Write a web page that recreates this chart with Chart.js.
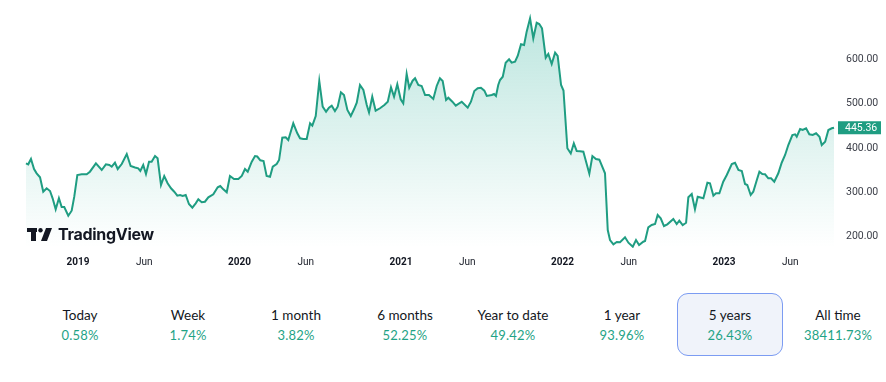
<!DOCTYPE html>
<html>
<head>
<meta charset="utf-8">
<script src="https://cdn.jsdelivr.net/npm/chart.js@4/dist/chart.umd.min.js"></script>
<style>
  html, body { margin: 0; padding: 0; background: #fff; width: 886px; height: 382px; overflow: hidden; }
  #wrap { position: absolute; left: 0; top: 0; width: 886px; height: 275px; }
  #logo { position: absolute; left: 27px; top: 224px; height: 20px; display: flex; align-items: center; }
  #logo span { font-family: Inter, "Noto Sans", sans-serif; font-weight: 700; font-size: 16px; color: #131722; margin-left: 6px; letter-spacing: -0.3px; }
  .perf { position: absolute; top: 305px; width: 108px; text-align: center; font-family: Lato, "Noto Sans", sans-serif; }
  .perf .l { font-size: 13.5px; color: #131722; height: 20px; line-height: 20px; }
  .perf .v { font-size: 13px; color: #1fa386; height: 20px; line-height: 20px; letter-spacing: 0.2px; }
  #sel { position: absolute; left: 677px; top: 293px; width: 104px; height: 61px; border: 1.5px solid #7c9cf2; border-radius: 11px; background: #f0f3fa; }
</style>
</head>
<body>
<div id="sel"></div>
<div id="wrap"><canvas id="c" width="886" height="275"></canvas></div>
<div id="logo">
  <svg width="25" height="13" viewBox="0 0 25 13">
    <rect x="0" y="0" width="10" height="4" fill="#131722"/>
    <rect x="4" y="0" width="5" height="13" fill="#131722"/>
    <circle cx="13.5" cy="2.2" r="2.2" fill="#131722"/>
    <polygon points="19,0 25,0 20,13 14,13" fill="#131722"/>
  </svg>
  <span>TradingView</span>
</div>
<div id="perfRow"></div>
<script>
// ---- data ----
const dates = [2018.678,2018.692,2018.709,2018.728,2018.744,2018.765,2018.785,2018.806,2018.827,2018.843,2018.862,2018.882,2018.899,2018.915,2018.940,2018.961,2018.977,2018.996,2019.023,2019.054,2019.074,2019.111,2019.147,2019.173,2019.194,2019.209,2019.229,2019.246,2019.271,2019.302,2019.326,2019.353,2019.373,2019.386,2019.404,2019.421,2019.440,2019.456,2019.477,2019.493,2019.514,2019.534,2019.555,2019.576,2019.596,2019.615,2019.632,2019.648,2019.667,2019.687,2019.708,2019.729,2019.745,2019.766,2019.786,2019.807,2019.838,2019.865,2019.881,2019.900,2019.921,2019.941,2019.966,2019.993,2020.014,2020.034,2020.051,2020.076,2020.096,2020.110,2020.129,2020.149,2020.168,2020.189,2020.206,2020.230,2020.245,2020.265,2020.286,2020.302,2020.333,2020.358,2020.375,2020.395,2020.416,2020.437,2020.451,2020.472,2020.494,2020.515,2020.536,2020.554,2020.571,2020.591,2020.608,2020.628,2020.647,2020.668,2020.689,2020.709,2020.726,2020.746,2020.767,2020.788,2020.802,2020.822,2020.843,2020.870,2020.897,2020.918,2020.938,2020.957,2020.977,2020.998,2021.014,2021.035,2021.051,2021.072,2021.087,2021.107,2021.128,2021.149,2021.173,2021.200,2021.221,2021.241,2021.258,2021.279,2021.293,2021.318,2021.339,2021.376,2021.413,2021.433,2021.454,2021.475,2021.495,2021.516,2021.531,2021.562,2021.576,2021.588,2021.602,2021.613,2021.630,2021.648,2021.669,2021.685,2021.706,2021.723,2021.743,2021.762,2021.778,2021.799,2021.819,2021.840,2021.856,2021.873,2021.896,2021.912,2021.933,2021.954,2021.970,2021.991,2022.006,2022.030,2022.051,2022.070,2022.088,2022.108,2022.129,2022.166,2022.185,2022.207,2022.228,2022.263,2022.280,2022.294,2022.315,2022.336,2022.356,2022.387,2022.408,2022.435,2022.455,2022.474,2022.500,2022.511,2022.531,2022.552,2022.573,2022.589,2022.608,2022.628,2022.649,2022.686,2022.707,2022.723,2022.744,2022.765,2022.779,2022.800,2022.820,2022.837,2022.872,2022.897,2022.913,2022.934,2022.950,2022.971,2022.995,2023.017,2023.048,2023.068,2023.089,2023.110,2023.130,2023.144,2023.165,2023.181,2023.203,2023.219,2023.237,2023.254,2023.274,2023.291,2023.311,2023.336,2023.357,2023.378,2023.398,2023.423,2023.440,2023.450,2023.471,2023.487,2023.508,2023.528,2023.549,2023.570,2023.591,2023.605,2023.626,2023.646,2023.667,2023.681];
const prices = [365.3,363.0,375.0,352.5,342.8,333.8,301.3,309.0,302.9,286.5,261.7,286.5,266.9,266.9,247.3,258.6,290.1,338.9,340.5,340.5,346.4,365.3,350.2,363.0,361.5,357.6,366.6,352.5,363.7,386.2,359.2,355.8,354.0,348.0,361.5,341.2,368.9,368.9,381.7,376.6,316.4,336.7,320.3,309.0,301.3,292.3,293.9,291.7,293.9,273.6,265.3,275.2,284.2,277.5,278.8,288.7,295.5,311.2,314.2,306.7,300.0,336.7,329.9,329.9,336.7,352.5,346.4,368.9,381.7,380.6,372.1,370.5,336.7,335.1,357.6,363.7,372.7,423.0,423.8,417.8,455.4,432.9,421.6,420.0,420.0,455.4,450.0,471.8,550.6,492.8,481.5,490.5,495.0,483.1,492.8,525.2,519.1,485.3,471.8,486.9,501.8,541.6,530.4,496.6,479.7,515.3,483.8,489.2,496.6,504.0,536.4,515.3,543.2,509.4,500.4,566.4,535.5,551.3,556.7,541.6,539.4,519.1,519.1,510.1,539.4,556.7,550.6,507.8,513.0,504.0,495.0,504.0,490.5,504.0,528.1,534.2,535.5,528.8,516.9,519.1,521.4,516.9,541.6,552.9,560.3,591.8,599.5,591.8,594.1,607.6,633.3,631.7,661.7,691.8,646.8,681.9,679.0,669.3,603.1,611.4,588.9,614.4,606.9,541.6,529.2,399.1,387.4,410.3,393.0,392.3,391.4,341.9,381.7,375.0,373.4,342.8,215.1,192.6,182.9,188.1,187.4,198.6,186.5,177.5,192.6,181.3,188.7,190.3,221.2,226.3,228.6,248.9,241.4,224.1,227.9,239.9,228.6,236.0,226.3,231.5,288.7,296.2,261.7,290.1,286.5,321.6,320.3,292.3,297.7,297.7,323.9,338.9,363.7,366.6,350.2,348.0,318.7,316.4,293.9,301.3,327.7,346.4,341.2,340.5,331.5,331.5,323.9,342.8,366.6,384.0,406.5,429.0,430.6,425.2,442.5,440.3,444.1,430.6,429.0,432.9,425.2,406.5,413.9,440.3,444.1,445.36];
const xTickValues = [2019, 2019.41, 2020, 2020.41, 2021, 2021.41, 2022, 2022.41, 2023, 2023.41];
const xTickLabels = ['2019', 'Jun', '2020', 'Jun', '2021', 'Jun', '2022', 'Jun', '2023', 'Jun'];
const yTickValues = [200, 300, 400, 500, 600];
const lastPrice = 445.36;
const perfLabels = ['Today', 'Week', '1 month', '6 months', 'Year to date', '1 year', '5 years', 'All time'];
const perfValues = ['0.58%', '1.74%', '3.82%', '52.25%', '49.42%', '93.96%', '26.43%', '38411.73%'];

// ---- performance row ----
const perfCenters = [80, 188, 296, 405, 513, 622, 730, 838];
const row = document.getElementById('perfRow');
perfLabels.forEach((lab, i) => {
  const d = document.createElement('div');
  d.className = 'perf';
  d.style.left = (perfCenters[i] - 54) + 'px';
  d.innerHTML = '<div class="l">' + lab + '</div><div class="v">' + perfValues[i] + '</div>';
  row.appendChild(d);
});

// ---- chart ----
const GREEN = '#1f9d82';
const priceLabel = {
  id: 'priceLabel',
  afterDraw(chart) {
    const ctx = chart.ctx;
    const y = chart.scales.y.getPixelForValue(lastPrice);
    const x0 = chart.chartArea.right + 3;
    ctx.save();
    ctx.fillStyle = GREEN;
    ctx.fillRect(x0, y - 6.5, 43, 13);
    ctx.fillStyle = '#fff';
    ctx.font = '10.5px Roboto, "Noto Sans", sans-serif';
    ctx.textBaseline = 'middle';
    ctx.textAlign = 'left';
    ctx.fillText(lastPrice.toFixed(2), x0 + 7, y + 0.5);
    ctx.restore();
  }
};

new Chart(document.getElementById('c'), {
  type: 'line',
  data: {
    datasets: [{
      data: dates.map((d, i) => ({ x: d, y: prices[i] })),
      borderColor: GREEN,
      borderWidth: 2,
      pointRadius: 0,
      tension: 0,
      fill: 'start',
      backgroundColor: (c) => {
        const a = c.chart.chartArea;
        if (!a) return 'rgba(34,171,148,0.2)';
        const g = c.chart.ctx.createLinearGradient(0, a.top, 0, a.bottom);
        g.addColorStop(0, 'rgba(34,171,148,0.32)');
        g.addColorStop(1, 'rgba(34,171,148,0.0)');
        return g;
      }
    }]
  },
  options: {
    responsive: false,
    animation: false,
    layout: { padding: 0 },
    plugins: { legend: { display: false }, tooltip: { enabled: false } },
    scales: {
      x: {
        type: 'linear',
        min: 2018.672,
        max: 2023.687,
        grid: { display: false, drawTicks: false },
        border: { display: false },
        afterBuildTicks: (s) => { s.ticks = xTickValues.map(v => ({ value: v })); },
        afterFit: (s) => { s.height = 27; s.paddingLeft = 25; s.paddingRight = 0; },
        ticks: {
          autoSkip: false,
          maxRotation: 0,
          padding: 8,
          color: '#131722',
          font: (c) => ({ family: 'Roboto, "Noto Sans", sans-serif', size: 10, weight: (c.tick && Number.isInteger(c.tick.value)) ? 'bold' : 'normal' }),
          callback: (v) => { const i = xTickValues.indexOf(v); return i >= 0 ? xTickLabels[i] : ''; }
        }
      },
      y: {
        position: 'right',
        min: 174.6,
        max: 733,
        grid: { display: false, drawTicks: false },
        border: { display: false },
        afterBuildTicks: (s) => { s.ticks = yTickValues.map(v => ({ value: v })); },
        afterFit: (s) => { s.width = 51; s.paddingTop = 0; s.paddingBottom = 0; },
        ticks: {
          padding: 11,
          color: '#3b3e48',
          font: { family: 'Roboto, "Noto Sans", sans-serif', size: 10.5 },
          callback: (v) => Number(v).toFixed(2)
        }
      }
    }
  },
  plugins: [priceLabel]
});
</script>
</body>
</html>
